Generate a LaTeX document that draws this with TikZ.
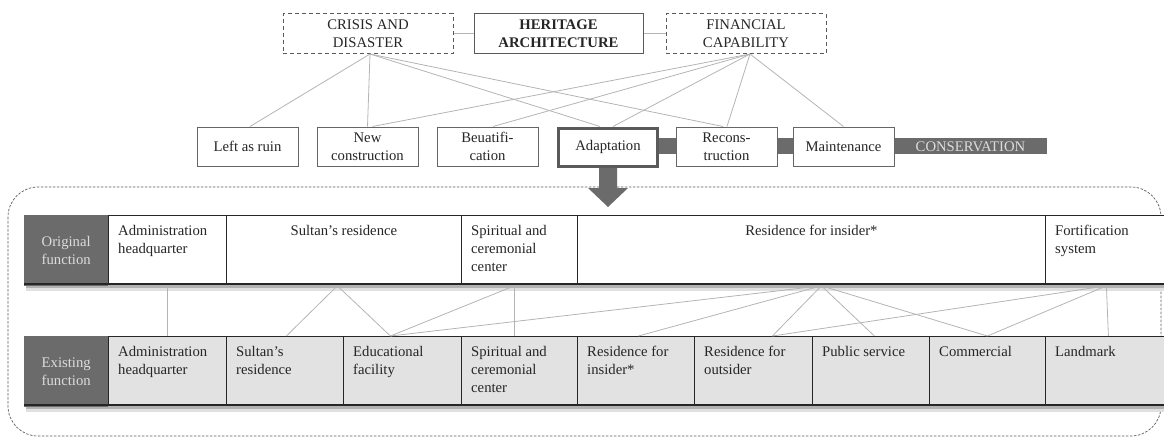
\documentclass[tikz,border=0pt]{standalone}
\usepackage{fontspec}
\setmainfont{Liberation Serif}
\definecolor{dk}{HTML}{6B6B6B}
\definecolor{lnk}{HTML}{B4B4B4}
\definecolor{bord}{HTML}{5A5A5A}
\definecolor{cellgray}{HTML}{E2E2E2}
\definecolor{lbltext}{HTML}{DCDCDC}
\begin{document}
\begin{tikzpicture}[x=1pt,y=-1pt,
  every node/.style={font=\fontsize{14.7}{18}\selectfont, text=black!85},
  topbox/.style={draw=bord, line width=1pt, minimum height=40pt, align=center, inner sep=0pt},
  dashbox/.style={topbox, dash pattern=on 4pt off 3pt},
  midbox/.style={draw=black!60, line width=1pt, fill=white, minimum width=101pt, minimum height=39pt, align=center, inner sep=0pt},
  link/.style={draw=lnk, line width=0.8pt},
  lblcell/.style={fill=dk, text=lbltext, align=center, inner sep=0pt, anchor=north west},
  ocell/.style={draw=black!85, line width=0.8pt, fill=white, inner sep=0pt, anchor=north west},
  ecell/.style={draw=black!85, line width=0.8pt, fill=cellgray, inner sep=0pt, anchor=north west},
  ctext/.style={align=left, inner sep=0pt, anchor=north west},
  ctextc/.style={align=center, inner sep=0pt, anchor=north}
]
\useasboundingbox (0,0) rectangle (1164,437);

% ---- top row
\node[dashbox, minimum width=170pt] (cd) at (368,33.5) {CRISIS AND\\DISASTER};
\node[topbox, minimum width=169pt, font=\fontsize{14.7}{18}\selectfont\bfseries] (ha) at (558.5,33.5) {HERITAGE\\ARCHITECTURE};
\node[dashbox, minimum width=160pt] (fc) at (746,33.5) {FINANCIAL\\CAPABILITY};
\draw[link] (cd.east) -- (ha.west);
\draw[link] (ha.east) -- (fc.west);

% ---- conservation bar
\fill[dk] (640,138) rectangle (1047,154);
\node[text=lbltext, inner sep=0pt] (cons) at (970.5,146.5) {CONSERVATION};

% ---- middle row
\node[midbox] (lr) at (247.5,146.5) {Left as ruin};
\node[midbox] (nc) at (367.5,146.5) {New\\construction};
\node[midbox] (be) at (487.5,146.5) {Beuatifi-\\cation};
\node[midbox, draw=bord, line width=3pt, minimum width=99pt, minimum height=38pt] (ad) at (608,147) {Adaptation};
\node[midbox] (rc) at (726.5,146.5) {Recons-\\truction};
\node[midbox] (mt) at (843.5,146.5) {Maintenance};

% ---- links top -> middle
\draw[link] ([xshift=2pt]cd.south) -- ([xshift=2.5pt]lr.north);
\draw[link] ([xshift=2pt]cd.south) -- (nc.north);
\draw[link] ([xshift=2pt]cd.south) -- ([xshift=-8pt]ad.north);
\draw[link] ([xshift=2pt]cd.south) -- ([xshift=-3.5pt]rc.north);
\draw[link] ([xshift=4pt]fc.south) -- ([xshift=5pt]nc.north);
\draw[link] ([xshift=4pt]fc.south) -- ([xshift=5.5pt]be.north);
\draw[link] ([xshift=4pt]fc.south) -- ([xshift=5pt]ad.north);
\draw[link] ([xshift=4pt]fc.south) -- ([xshift=0.5pt]rc.north);
\draw[link] ([xshift=4pt]fc.south) -- (mt.north);

% ---- dashed frame
\draw[bord, line width=0.7pt, dash pattern=on 2.5pt off 1.5pt, rounded corners=30pt] (8,187) rectangle (1161,436);

% ---- arrow
\fill[dk] (599,168) -- (617,168) -- (617,188) -- (628,188) -- (608,207) -- (588,188) -- (599,188) -- cycle;

% ---- original function row
\fill[black!30] (26,285) rectangle (1164,288);
\fill[black!12] (26,288) rectangle (1164,291);
\node[lblcell, minimum width=84pt, minimum height=71pt] (ol) at (24,215) {Original\\function};
\node[ocell, minimum width=118pt, minimum height=69pt] (o1) at (108,215) {};
\node[ocell, minimum width=235pt, minimum height=69pt] (o2) at (226,215) {};
\node[ocell, minimum width=116pt, minimum height=69pt] (o3) at (461,215) {};
\node[ocell, minimum width=468pt, minimum height=69pt] (o4) at (577,215) {};
\node[ocell, minimum width=125pt, minimum height=69pt] (o5) at (1045,215) {};
\draw[black!85, line width=1.6pt] (24,284) -- (1164,284);
\node[ctext] at ([shift={(10,10)}]o1.north west) {Administration\\headquarter};
\node[ctextc] at ([shift={(0,10)}]o2.north) {Sultan’s residence};
\node[ctext] at ([shift={(10,10)}]o3.north west) {Spiritual and\\ceremonial\\center};
\node[ctextc] at ([shift={(0,10)}]o4.north) {Residence for insider*};
\node[ctext] at ([shift={(10,10)}]o5.north west) {Fortification\\system};

% ---- existing function row
\fill[black!30] (26,406) rectangle (1164,409);
\fill[black!12] (26,409) rectangle (1164,412);
\node[lblcell, minimum width=84pt, minimum height=71pt] (el) at (24,336) {Existing\\function};
\node[ecell, minimum width=118pt, minimum height=69pt] (e1) at (108,336) {};
\node[ecell, minimum width=117pt, minimum height=69pt] (e2) at (226,336) {};
\node[ecell, minimum width=118pt, minimum height=69pt] (e3) at (343,336) {};
\node[ecell, minimum width=116pt, minimum height=69pt] (e4) at (461,336) {};
\node[ecell, minimum width=117pt, minimum height=69pt] (e5) at (577,336) {};
\node[ecell, minimum width=118pt, minimum height=69pt] (e6) at (694,336) {};
\node[ecell, minimum width=117pt, minimum height=69pt] (e7) at (812,336) {};
\node[ecell, minimum width=116pt, minimum height=69pt] (e8) at (929,336) {};
\node[ecell, minimum width=125pt, minimum height=69pt] (e9) at (1045,336) {};
\draw[black!85, line width=1.6pt] (24,405) -- (1164,405);
\node[ctext] at ([shift={(10,10)}]e1.north west) {Administration\\headquarter};
\node[ctext] at ([shift={(10,10)}]e2.north west) {Sultan’s\\residence};
\node[ctext] at ([shift={(10,10)}]e3.north west) {Educational\\facility};
\node[ctext] at ([shift={(10,10)}]e4.north west) {Spiritual and\\ceremonial\\center};
\node[ctext] at ([shift={(10,10)}]e5.north west) {Residence for\\insider*};
\node[ctext] at ([shift={(10,10)}]e6.north west) {Residence for\\outsider};
\node[ctext] at ([shift={(10,10)}]e7.north west) {Public service};
\node[ctext] at ([shift={(10,10)}]e8.north west) {Commercial};
\node[ctext] at ([shift={(10,10)}]e9.north west) {Landmark};

% ---- links original -> existing
\draw[link] ([shift={(0,1)}]o1.south) -- (e1.north);
\draw[link] ([shift={(-6.5,1)}]o2.south) -- ([xshift=1.5pt]e2.north);
\draw[link] ([shift={(-6.5,1)}]o2.south) -- ([xshift=-12pt]e3.north);
\draw[link] ([shift={(-5,1)}]o3.south) -- ([xshift=-12pt]e3.north);
\draw[link] ([shift={(-5,1)}]o3.south) -- ([xshift=-5pt]e4.north);
\draw[link] ([shift={(10,1)}]o4.south) -- ([xshift=-12pt]e3.north);
\draw[link] ([shift={(10,1)}]o4.south) -- ([xshift=2.5pt]e5.north);
\draw[link] ([shift={(10,1)}]o4.south) -- ([xshift=19pt]e6.north);
\draw[link] ([shift={(10,1)}]o4.south) -- ([xshift=3.5pt]e7.north);
\draw[link] ([shift={(10,1)}]o4.south) -- (e8.north);
\draw[link] ([shift={(-1.5,1)}]o5.south) -- ([xshift=19pt]e6.north);
\draw[link] ([shift={(-1.5,1)}]o5.south) -- (e8.north);
\draw[link] ([shift={(-1.5,1)}]o5.south) -- ([xshift=0.5pt]e9.north);
\end{tikzpicture}
\end{document}
